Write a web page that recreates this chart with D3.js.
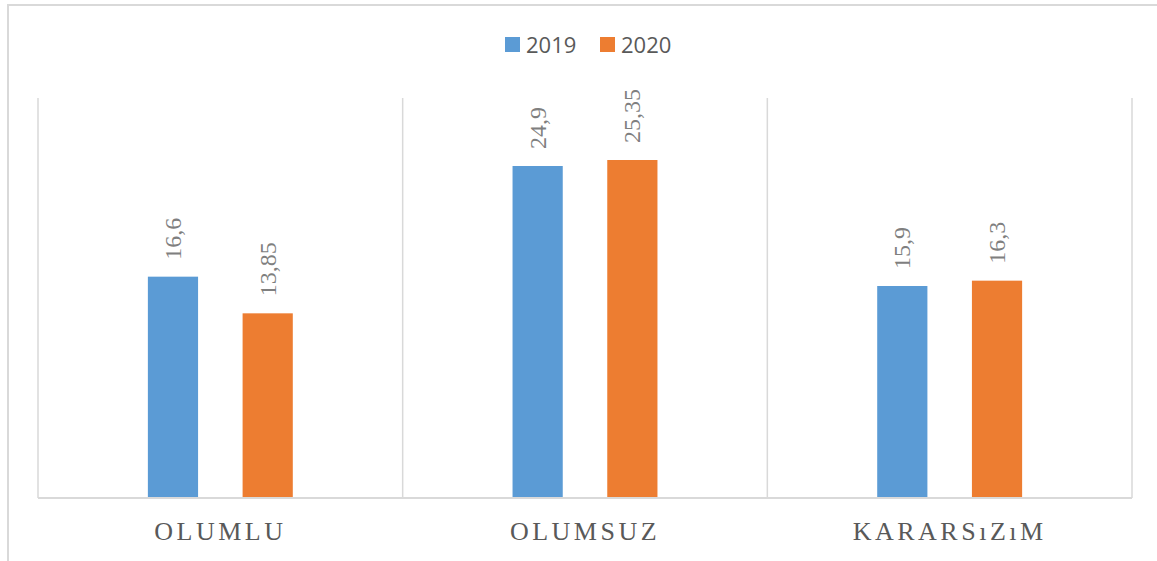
<!DOCTYPE html>
<html lang="tr">
<head>
    <meta charset="UTF-8">
    <title>Olumlu / Olumsuz / Kararsızım</title>
    <script src="https://d3js.org/d3.v7.min.js"></script>
    <style>
        body {margin: 0; background: #fff;}
        .legend text {
            font-family: "Open Sans", "Liberation Sans", sans-serif;
            font-size: 22px;
            fill: #595959;
        }
        .val {
            font-family: "Liberation Serif", "DejaVu Serif", serif;
            font-size: 24px;
            fill: #7f7f7f;
        }
        .cat {
            font-family: "Liberation Serif", "DejaVu Serif", serif;
            font-size: 26px;
            fill: #595959;
            letter-spacing: 3.5px;
        }
    </style>
</head>
<body>
<script>
    const width = 1157;
    const height = 561;

    // data
    const categories = ["OLUMLU", "OLUMSUZ", "KARARSıZıM"];
    const years = ["2019", "2020"];
    const values2019 = [16.6, 24.9, 15.9];
    const values2020 = [13.85, 25.35, 16.3];
    const colors = ["#5b9bd5", "#ed7d31"];

    const rows = categories.map((c, i) => ({
        cat: c,
        vals: [
            {year: years[0], v: values2019[i]},
            {year: years[1], v: values2020[i]}
        ]
    }));

    const svg = d3.select("body").append("svg")
            .attr("width", width).attr("height", height);

    // outer frame
    svg.append("path")
            .attr("d", `M8,${height} V5 H${width}`)
            .style("fill", "none")
            .style("stroke", "#d9d9d9")
            .style("stroke-width", 2);

    const margin = {left: 38, right: 25, top: 98, bottom: 63};
    const x0 = d3.scaleBand()
            .domain(categories)
            .range([margin.left, width - margin.right]);
    const x1 = d3.scaleBand()
            .domain(years)
            .range([0, x0.bandwidth()])
            .paddingInner(0.47)
            .paddingOuter(1.16);
    const y = d3.scaleLinear()
            .domain([0, 30])
            .range([height - margin.bottom, margin.top]);

    // category separators
    const seps = categories.map(c => x0(c)).concat([x0.range()[1]]);
    svg.selectAll("line.sep")
            .data(seps)
            .enter()
            .append("line")
            .attr("class", "sep")
            .attr("x1", d => d).attr("x2", d => d)
            .attr("y1", y.range()[1]).attr("y2", y(0))
            .style("stroke", "#d9d9d9")
            .style("stroke-width", 1.5);

    const groups = svg.selectAll("g.catg")
            .data(rows)
            .enter()
            .append("g")
            .attr("class", "catg")
            .attr("transform", d => `translate(${x0(d.cat)},0)`);

    groups.selectAll("rect")
            .data(d => d.vals)
            .enter()
            .append("rect")
            .attr("x", d => x1(d.year))
            .attr("width", x1.bandwidth())
            .attr("y", d => y(d.v))
            .attr("height", d => y(0) - y(d.v))
            .style("fill", (d, i) => colors[i]);

    groups.selectAll("text.val")
            .data(d => d.vals)
            .enter()
            .append("text")
            .attr("class", "val")
            .attr("font-family", "Liberation Serif, serif")
            .attr("transform", d => `translate(${x1(d.year) + x1.bandwidth() / 2 + 8},${y(d.v) - 17}) rotate(-90)`)
            .text(d => String(d.v).replace(".", ","));

    // baseline
    svg.append("line")
            .attr("x1", margin.left).attr("x2", x0.range()[1])
            .attr("y1", y(0)).attr("y2", y(0))
            .style("stroke", "#d9d9d9")
            .style("stroke-width", 2);

    groups.append("text")
            .attr("class", "cat")
            .attr("x", x0.bandwidth() / 2)
            .attr("y", 540)
            .attr("text-anchor", "middle")
            .text(d => d.cat);

    // legend
    const legend = svg.append("g").attr("class", "legend");
    const legX = [505, 600];
    years.forEach((yr, i) => {
        legend.append("rect")
                .attr("x", legX[i]).attr("y", 37)
                .attr("width", 15).attr("height", 15)
                .style("fill", colors[i]);
        legend.append("text")
                .attr("x", legX[i] + 21).attr("y", 53)
                .text(yr);
    });
</script>
</body>
</html>
